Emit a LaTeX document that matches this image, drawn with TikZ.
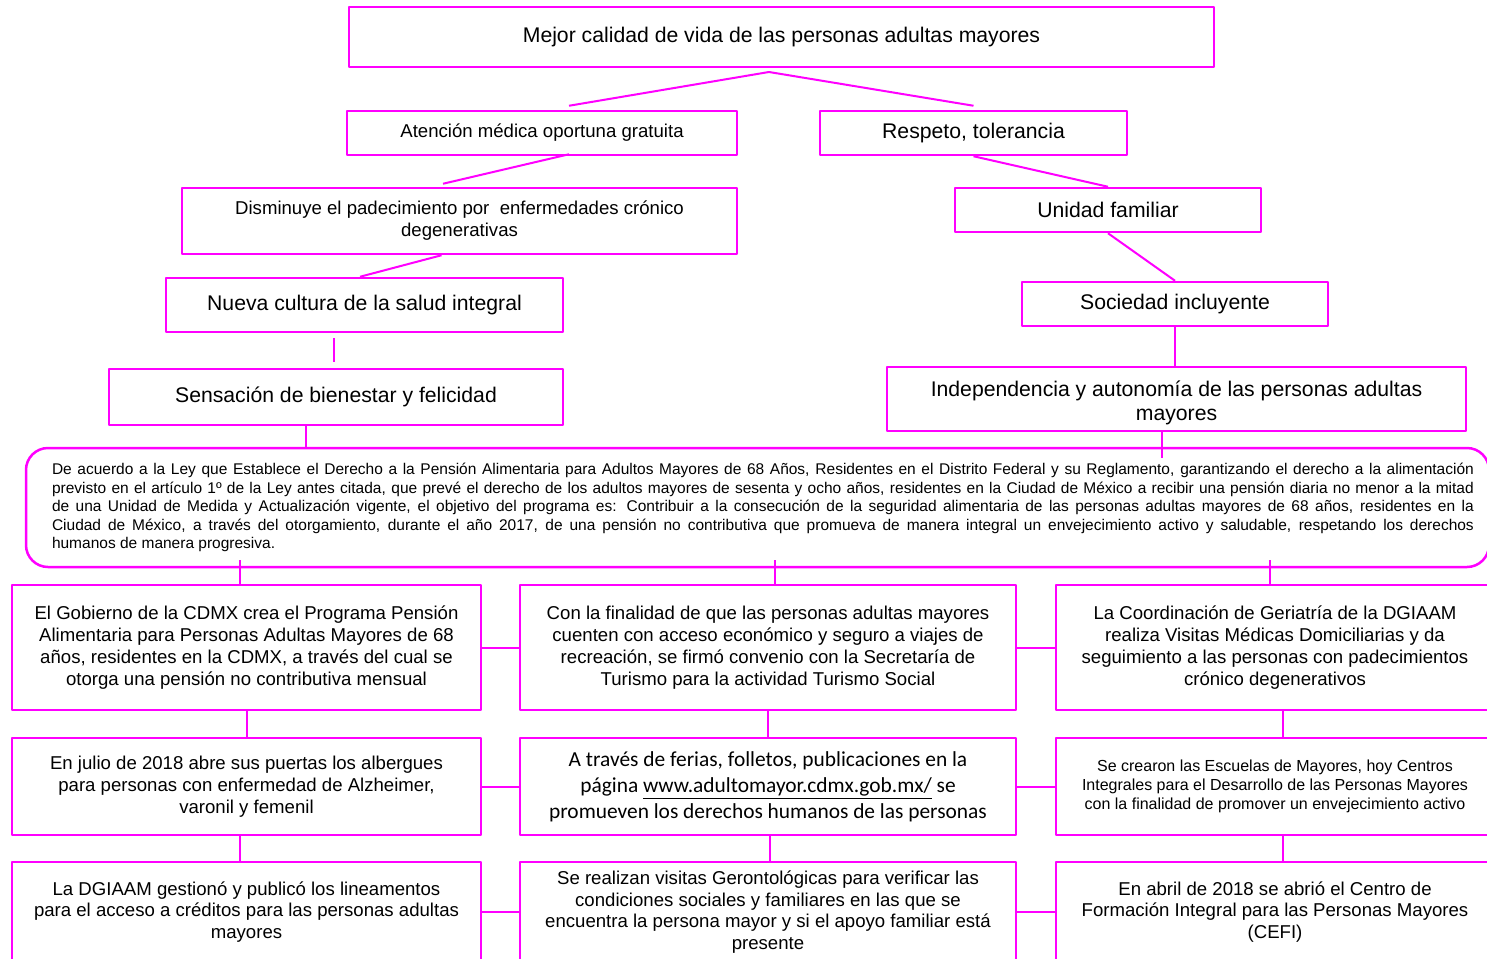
\documentclass[tikz,border=0pt]{standalone}
\usepackage{fontspec}
\setmainfont{Liberation Sans}
\newfontfamily\calibri{Carlito}
\definecolor{rosa}{RGB}{255,0,255}

\begin{document}
\begin{tikzpicture}[x=0.5pt,y=-0.5pt,line join=round,
	caja/.style={draw=rosa,line width=1.25pt,inner sep=0pt,align=center},
	linea/.style={draw=rosa,line width=1pt},
	grande/.style={font=\fontsize{10.6}{12}\selectfont},
	medio/.style={font=\fontsize{9.3}{11}\selectfont},
	texto/.style={font=\fontsize{9.3}{10.9}\selectfont},
	chico/.style={font=\fontsize{8}{9.5}\selectfont},
	calib/.style={font=\calibri\fontsize{10.7}{13}\selectfont}]
	\useasboundingbox (0,0) rectangle (1487,958);
	\clip (0,0) rectangle (1487,958);
	% parte superior
	\node[caja,grande,minimum width=432.5pt,minimum height=30pt] (titulo) at (781.5,37) {Mejor calidad de vida de las personas adultas mayores};
	\node[caja,medio,minimum width=195pt,minimum height=22pt] (atencion) at (542,133) {Atención médica oportuna gratuita};
	\node[caja,grande,minimum width=153.5pt,minimum height=22pt] (respeto) at (973.5,133) {Respeto, tolerancia};
	\node[caja,medio,minimum width=277.5pt,minimum height=33pt] (disminuye) at (459.5,221) {Disminuye el padecimiento por\ \ enfermedades crónico\\degenerativas};
	\node[caja,grande,minimum width=198.5pt,minimum height=27pt] (nueva) at (364.5,305) {Nueva cultura de la salud integral};
	\node[caja,grande,minimum width=227pt,minimum height=28pt] (sensacion) at (336,397) {Sensación de bienestar y felicidad};
	\node[caja,grande,minimum width=153pt,minimum height=22pt] (unidad) at (1108,210) {Unidad familiar};
	\node[caja,grande,minimum width=153pt,minimum height=22pt] (sociedad) at (1175,304) {Sociedad incluyente};
	\node[caja,grande,minimum width=289.5pt,minimum height=32pt] (independencia) at (1176.5,399) {\rule{0pt}{12pt}Independencia y autonomía de las personas adultas\\mayores};
	% cuadro de la ley
	\node[caja,rounded corners=11pt,minimum width=731.5pt,minimum height=59.5pt,font=\fontsize{7.75}{9.25}\selectfont] (ley) at (757.5,507.5) {\hspace*{5.5pt}\parbox{711pt}{De acuerdo a la Ley que Establece el Derecho a la Pensión Alimentaria para Adultos Mayores de 68 Años, Residentes en el Distrito Federal y su Reglamento, garantizando el derecho a la alimentación\linebreak
	previsto en el artículo 1º de la Ley antes citada, que prevé el derecho de los adultos mayores de sesenta y ocho años, residentes en la Ciudad de México a recibir una pensión diaria no menor a la mitad\linebreak
	de una Unidad de Medida y Actualización vigente, el objetivo del programa es: Contribuir a la consecución de la seguridad alimentaria de las personas adultas mayores de 68 años, residentes en la\linebreak
	Ciudad de México, a través del otorgamiento, durante el año 2017, de una pensión no contributiva que promueva de manera integral un envejecimiento activo y saludable, respetando los derechos\linebreak
	humanos de manera progresiva.}};
	% acciones
	\node[caja,texto,minimum width=234.5pt,minimum height=62.5pt] (gobierno) at (246.5,647.5) {El Gobierno de la CDMX crea el Programa Pensión\\Alimentaria para Personas Adultas Mayores de 68\\años, residentes en la CDMX, a través del cual se\\otorga una pensión no contributiva mensual};
	\node[caja,texto,minimum width=248pt,minimum height=62.5pt] (turismo) at (768,647.5) {Con la finalidad de que las personas adultas mayores\\cuenten con acceso económico y seguro a viajes de\\recreación, se firmó convenio con la Secretaría de\\Turismo para la actividad Turismo Social};
	\node[caja,texto,minimum width=219pt,minimum height=62.5pt] (geriatria) at (1275,647.5) {La Coordinación de Geriatría de la DGIAAM\\realiza Visitas Médicas Domiciliarias y da\\seguimiento a las personas con padecimientos\\crónico degenerativos};
	\node[caja,texto,minimum width=234.5pt,minimum height=48.5pt] (albergues) at (246.5,786.5) {En julio de 2018 abre sus puertas los albergues\\para personas con enfermedad de Alzheimer,\\varonil y femenil};
	\node[caja,calib,minimum width=248pt,minimum height=48.5pt] (ferias) at (768,786.5) {A través de ferias, folletos, publicaciones en la\\página \underline{www.adultomayor.cdmx.gob.mx/} se\\promueven los derechos humanos de las personas};
	\node[caja,chico,minimum width=219pt,minimum height=48.5pt] (escuelas) at (1275,786.5) {Se crearon las Escuelas de Mayores, hoy Centros\\Integrales para el Desarrollo de las Personas Mayores\\con la finalidad de promover un envejecimiento activo};
	\node[caja,texto,minimum width=234.5pt,minimum height=50pt] (creditos) at (246.5,912) {La DGIAAM gestionó y publicó los lineamentos\\para el acceso a créditos para las personas adultas\\mayores};
	\node[caja,texto,minimum width=248pt,minimum height=50pt] (visitas) at (768,912) {Se realizan visitas Gerontológicas para verificar las\\condiciones sociales y familiares en las que se\\encuentra la persona mayor y si el apoyo familiar está\\presente};
	\node[caja,texto,minimum width=219pt,minimum height=50pt] (cefi) at (1275,912) {En abril de 2018 se abrió el Centro de\\Formación Integral para las Personas Mayores\\(CEFI)};
	% conectores
	\coordinate (cima) at (769,72);
	\draw[linea] ([xshift=13.5pt,yshift=2pt]atencion.north) -- (cima) -- ([yshift=2pt]respeto.north);
	\draw[linea] ([xshift=13.5pt,yshift=1pt]atencion.south) -- ([xshift=-8.25pt,yshift=1.5pt]disminuye.north);
	\draw[linea] ([xshift=-9pt]disminuye.south) -- ([xshift=-2.25pt]nueva.north);
	\draw[linea] ([xshift=-15.25pt,yshift=-2.5pt]nueva.south) -- ([xshift=-1pt,yshift=3pt]sensacion.north);
	\draw[linea] ([xshift=-15pt]sensacion.south) -- ([xshift=-15pt,yshift=-1pt]sensacion.south |- ley.north);
	\draw[linea] (respeto.south) -- (unidad.north);
	\draw[linea] (unidad.south) -- (sociedad.north);
	\draw[linea] (sociedad.south) -- (sociedad.south |- independencia.north);
	\draw[linea] ([xshift=-7.25pt]independencia.south) -- ([xshift=-7.25pt,yshift=-5.5pt]independencia.south |- ley.north);
	\foreach \b/\d in {gobierno/-3.25pt,turismo/3.5pt,geriatria/-2.5pt}
		\draw[linea] ([xshift=\d]\b.north) -- ([xshift=\d,yshift=4pt]\b.north |- ley.south);
	\draw[linea] (gobierno.south) -- (albergues.north);
	\draw[linea] ([xshift=-3.25pt]albergues.south) -- ([xshift=-3.25pt]creditos.north);
	\draw[linea] (turismo.south) -- (ferias.north);
	\draw[linea] ([xshift=1pt]ferias.south) -- ([xshift=1pt]visitas.north);
	\draw[linea] ([xshift=4pt]geriatria.south) -- ([xshift=4pt]escuelas.north);
	\draw[linea] ([xshift=4pt]escuelas.south) -- ([xshift=4pt]cefi.north);
	\foreach \a/\b in {gobierno/turismo,turismo/geriatria,albergues/ferias,ferias/escuelas,creditos/visitas,visitas/cefi}
		\draw[linea] (\a.east) -- (\b.west);
\end{tikzpicture}
\end{document}
